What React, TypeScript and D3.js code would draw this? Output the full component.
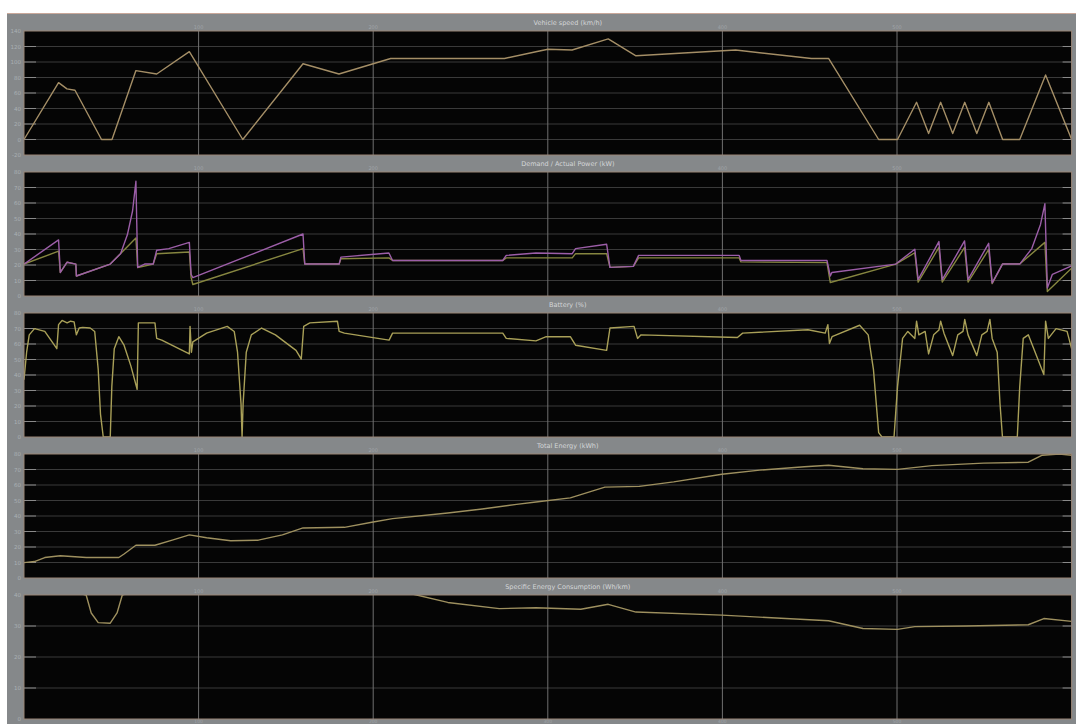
import React from 'react';
import * as d3 from 'd3';

const W = 1076;
const H = 724;
const PLOT_L = 24;
const PLOT_R = 1071.6;
const TOP0 = 31;
const STEP = 141;
const PH = 124;

const TIME_DOMAIN: [number, number] = [0, 600];
const TIME_TICKS = [100, 200, 300, 400, 500];

const TITLES = [
  'Vehicle speed (km/h)',
  'Demand / Actual Power (kW)',
  'Battery (%)',
  'Total Energy (kWh)',
  'Specific Energy Consumption (Wh/km)',
];

const Y_DOMAINS: [number, number][] = [[-20, 140], [0, 80], [0, 80], [0, 80], [0, 40]];
const Y_STEPS = [20, 10, 10, 10, 10];

const speedT = [0,19.8,24.6,29.2,44.4,50.4,64.1,76,94.7,125.3,159.8,180.4,210,275.2,293.2,300.1,313.9,334.6,350.5,407.6,451,460.9,489.5,500.3,511.2,518.1,525,531.9,538.8,545.7,552.6,560.5,570.3,585.1,600];
const speedV = [0,73.4,65.4,63.6,0,0,88.9,84.5,113.3,0,97.8,84.5,104.5,104.5,113.3,116.5,115.5,129.8,108,115.5,104.5,104.5,0,0,48,7.6,48,7.6,48,7.6,48,0,0,83.2,0];

const demandT = [0,19.8,20.8,24.7,29.7,30,49.4,55.3,59.2,62.2,64.1,65.1,69.1,74,76,82.9,94.7,95.7,96.7,159.8,160.8,180.5,181.5,209,211.1,274.2,276.2,293.2,314,315.9,333.7,335.6,349,352,409.6,410.6,450.9,459.9,461.8,462.7,499.3,510.2,512.1,524,525.9,538.7,540.7,552.5,554.5,560.4,570.3,577.2,582.2,584.7,586.1,589,600];
const demandV = [20.6,36.2,15.2,21.8,20.6,12.9,20.6,27.3,39.5,55,74,18.4,20.6,20.6,29.5,30.6,34.6,14,11.8,40,20.6,20.6,25.1,27.7,22.9,22.9,26.2,27.7,27.3,30.6,33.4,18.5,19.1,26.2,26.2,22.9,22.9,22.9,12.9,15.2,20.6,30.2,10.6,35.1,10.6,35.5,10.6,34,8.5,20.6,20.6,30.6,46.2,59.5,5.1,14,19.5];

const actualT = [0,19.8,20.8,24.7,29.7,30,49.4,64.1,65.1,74,76,94.7,95.7,96.7,159.8,160.8,180.5,181.5,209,211.1,274.2,276.2,314,315.9,333.7,335.6,349,352,409.6,410.6,459.9,461.8,499.3,510.2,512.1,524,525.9,538.7,540.7,552.5,554.5,560.4,570.3,584.7,586.1,600];
const actualV = [20.6,28.9,15.2,21.8,20.6,12.9,20.6,37.4,18.4,20.6,27.3,28.4,12,7.4,30.6,20.6,20.6,24,24.6,22.9,22.9,24.6,24.6,27.3,27.3,18.5,19.1,24.6,24.6,22,21.5,8.7,20.6,27.9,9,31.3,9,31.3,9,30,8,20.6,20.6,34.6,2.9,17.9];

const batteryT = [0,1.5,3,6,11.9,18.8,19.8,21.8,24.7,26.7,28.7,30,31.6,33.6,37.9,40.5,42.5,43.8,45.4,49.4,50.3,51.7,54.3,57.3,61.2,64.8,65.5,75,76,78.9,94.7,95.1,95.9,96.7,104.6,116.4,120.4,122.3,124.3,124.9,125.5,127.3,130.2,136.1,144,155.8,158.8,160.2,163.7,179.5,180.5,183.5,209.1,211.1,274.2,276.2,293.2,299.1,312.9,315.9,333.7,335.6,349.4,351.4,353.4,408.6,411.6,449,458.9,460.4,461.3,462.8,478.6,483.5,486.5,489.5,491.4,498.3,500.3,503.2,506.2,510.2,511.2,512.5,516.1,518.1,521,524,525,526.9,531.9,534.8,537.8,538.8,540.7,545.7,548.6,551.6,553.2,554.5,557.4,559,560.4,568.9,570.3,572.3,575.2,584.1,585.1,586.7,591.1,597.4,600];
const batteryV = [37,54.7,65.9,69.9,68.1,57,72.5,75.2,73.6,74.7,74.3,65.9,70.3,70.7,70.3,68.1,43.6,14.8,0,0,32.5,57,64.7,59.2,45.9,30.8,73.6,73.6,63.6,62.5,53.6,71.4,54.7,61.4,67,71.4,68.1,54.7,21.4,0,21.4,54.7,65.9,70.3,65.9,55.9,50.3,71.4,73.6,74.7,68.1,67,62.5,67,67,63.6,62,64.7,64.7,59.2,55.9,70.3,71.4,63.6,65.9,64.2,67,69.2,67,72.5,60.3,64.7,72.1,65.9,43.6,2.8,0,0,32.5,63.6,68.1,63.6,74.7,65.9,68.1,53.6,65.9,69,74.7,67,52.5,65.9,68.1,75.9,65.9,52.5,65.9,68.1,75.9,63.6,54.7,21.4,0,0,32.5,63.6,65.9,40.3,74.7,63.6,69.9,68.1,57];

const energyT = [0,6,11.9,20.8,35.6,54.3,57.3,64.1,75,84.9,94.7,104.6,118.4,134.2,148,159.8,183.5,199.2,211.1,242.7,262.4,282.1,293.2,312.9,332.7,352.4,372.1,399.7,421.4,447,460.8,480.5,500.3,520,549.5,575.2,583.2,593,600];
const energyV = [9.9,10.6,13.2,14.4,13.2,13.2,15.5,21.1,21.1,24.4,27.8,26,24,24.4,27.8,32.3,32.7,36,38.3,41.9,44.5,47.5,49,51.7,58.6,59.1,62,66.9,69.6,71.8,72.7,70.5,70.1,72.5,74.1,74.7,79.2,80,79.2];

const consT = [0,20,35.6,38.5,42.5,49.4,53.3,56.3,80,150,200,224.9,242.7,272.2,293.2,318.9,334.6,350.5,399.7,460.8,480.5,500.3,510.2,539.7,575.2,584.1,600];
const consV = [46,42,40,34.2,31.1,30.9,34.2,40,44,46,43,40,37.6,35.6,35.9,35.4,37,34.5,33.5,31.7,29.2,28.9,29.8,30,30.4,32.4,31.5];

const SERIES = [
  [{ t: speedT, v: speedV, color: '#a48e66' }],
  [
    { t: actualT, v: actualV, color: '#868640' },
    { t: demandT, v: demandV, color: '#9c5ea8' },
  ],
  [{ t: batteryT, v: batteryV, color: '#a9a058' }],
  [{ t: energyT, v: energyV, color: '#9e905f' }],
  [{ t: consT, v: consV, color: '#9e905f' }],
];

export default function App() {
  const x = d3.scaleLinear().domain(TIME_DOMAIN).range([PLOT_L, PLOT_R]);
  return (
    <div>
      <style>{'body{margin:0;background:#fff}'}</style>
      <svg width={W} height={H} style={{ display: 'block', fontFamily: 'DejaVu Sans, sans-serif' }}>
        <rect x={0} y={0} width={W} height={H} fill="#ffffff" />
        <rect x={7} y={13} width={W - 7} height={H - 13} fill="#85888a" />
        <line x1={7} x2={W} y1={13.5} y2={13.5} stroke="#c9a89a" strokeWidth={1} />
        <defs>
          {TITLES.map((_, i) => (
            <clipPath id={`clip${i}`} key={i}>
              <rect x={PLOT_L} y={TOP0 + i * STEP} width={PLOT_R - PLOT_L} height={PH} />
            </clipPath>
          ))}
        </defs>
        {TITLES.map((title, i) => {
          const top = TOP0 + i * STEP;
          const bottom = top + PH;
          const y = d3.scaleLinear().domain(Y_DOMAINS[i]).range([bottom, top]);
          const yt = d3.range(Y_DOMAINS[i][0], Y_DOMAINS[i][1] + 0.001, Y_STEPS[i]);
          return (
            <g key={i}>
              <text x={(PLOT_L + PLOT_R) / 2 + 20} y={top - 6} fontSize={6.5} fill="#d4d6d8" textAnchor="middle">{title}</text>
              <rect x={PLOT_L} y={top} width={PLOT_R - PLOT_L} height={PH} fill="#050505" />
              {yt.map((v) => (
                <g key={v}>
                  {v !== Y_DOMAINS[i][0] && v !== Y_DOMAINS[i][1] && (
                    <>
                      <line x1={PLOT_L} x2={PLOT_R} y1={y(v)} y2={y(v)} stroke="#3a3a3a" strokeWidth={1} />
                      <line x1={PLOT_L} x2={PLOT_L + 12} y1={y(v)} y2={y(v)} stroke="#8a8a8a" strokeWidth={1} />
                      <line x1={PLOT_R - 9} x2={PLOT_R} y1={y(v)} y2={y(v)} stroke="#8a8a8a" strokeWidth={1} />
                    </>
                  )}
                  <text x={21} y={y(v) + 2} fontSize={5.5} fill="#aab0b4" textAnchor="end">{v}</text>
                </g>
              ))}
              {TIME_TICKS.map((t) => (
                <g key={t}>
                  <line x1={x(t)} x2={x(t)} y1={top} y2={bottom} stroke="#707070" strokeWidth={1} />
                  {t !== 300 && (
                    <text x={x(t)} y={top - 2} fontSize={5} fill="#a0a4a8" textAnchor="middle">{t}</text>
                  )}
                </g>
              ))}
              <g clipPath={`url(#clip${i})`}>
                {SERIES[i].map((s, k) => {
                  const pts = s.t.map((t, j) => [t, s.v[j]] as [number, number]);
                  const path = d3.line<[number, number]>()
                    .x((d) => x(d[0]))
                    .y((d) => y(d[1]))(pts);
                  return <path key={k} d={path || ''} fill="none" stroke={s.color} strokeWidth={1.4} strokeLinejoin="round" />;
                })}
              </g>
              <rect x={PLOT_L} y={top} width={PLOT_R - PLOT_L} height={PH} fill="none" stroke="#9a8576" strokeWidth={1} />
              {i === TITLES.length - 1 && TIME_TICKS.map((t) => (
                <text key={t} x={x(t)} y={bottom + 4} fontSize={4.5} fill="#a0a4a8" textAnchor="middle">{t}</text>
              ))}
            </g>
          );
        })}
      </svg>
    </div>
  );
}
